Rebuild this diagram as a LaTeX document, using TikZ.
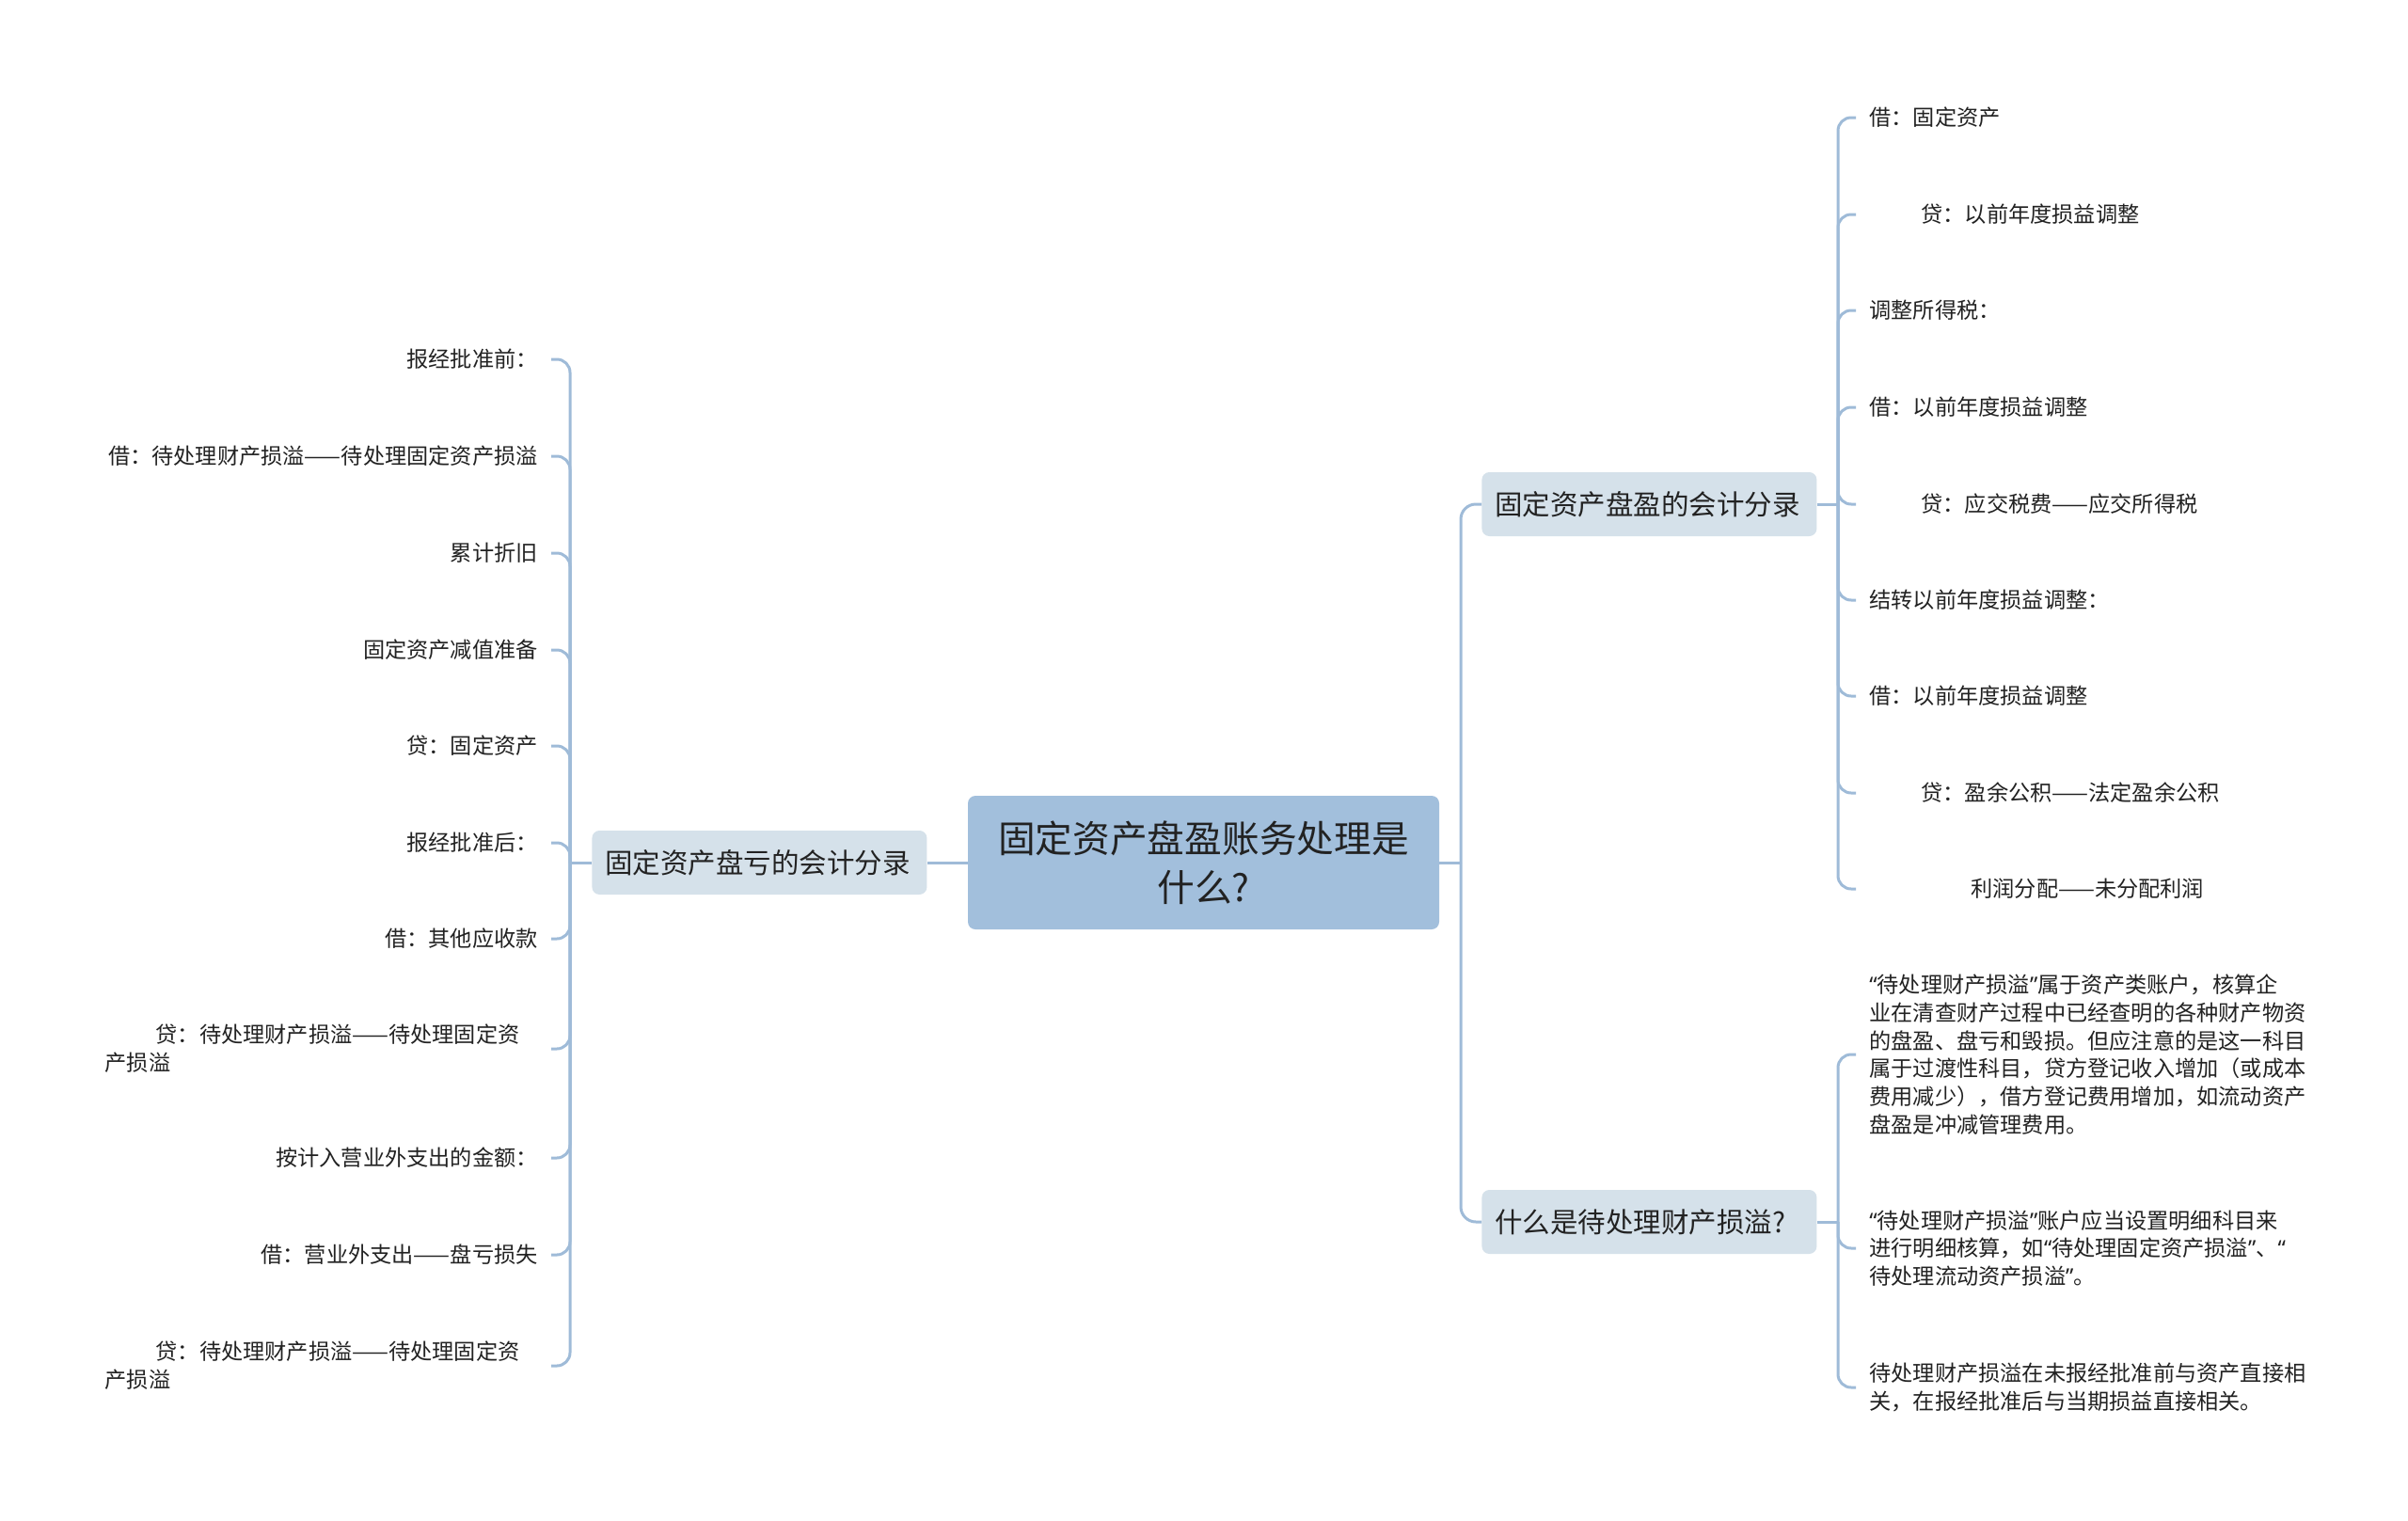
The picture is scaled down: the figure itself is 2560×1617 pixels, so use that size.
\documentclass[tikz,border=0pt]{standalone}
\usepackage{fontspec}
\setmainfont{Noto Sans CJK SC}
\newfontfamily\latinq{Noto Sans}
\newcommand\qlq{{\latinq “}}
\newcommand\qrq{{\latinq ”}}
\usetikzlibrary{calc}
\definecolor{linec}{HTML}{9FBBD8}
\definecolor{rootc}{HTML}{A2BFDC}
\definecolor{brc}{HTML}{D5E1EA}
\definecolor{txt}{HTML}{222222}
\tikzset{
  conn/.style={draw=linec, line width=1.5pt, rounded corners=7pt},
  trunk/.style={draw=linec, line width=1.5pt, rounded corners=8pt},
  rootbox/.style={fill=rootc, rounded corners=4pt, minimum width=250.5pt, minimum height=71pt,
    align=center, font=\fontsize{19.85pt}{26pt}\selectfont, text=txt, inner sep=0pt},
  brbox/.style={fill=brc, rounded corners=4pt, minimum height=34pt, anchor=west,
    inner xsep=7pt, inner ysep=0pt, text width=164pt, align=left,
    font=\fontsize{14.75pt}{18pt}\selectfont, text=txt},
  leaf/.style={inner sep=0pt, text=txt, font=\fontsize{11.6pt}{14.85pt}\selectfont},
  lleaf/.style={leaf, anchor=east},
  lleaftwo/.style={leaf, anchor=east, text width=230pt, align=left},
  rleaf/.style={leaf, anchor=west},
  rpara/.style={leaf, anchor=west, align=left},
}
\begin{document}
\begin{tikzpicture}[x=0.5pt,y=-0.5pt]
\path[use as bounding box, fill=white] (0,0) rectangle (2560,1617);

% root
\node[rootbox] (root) at (1279.5,917) {固定资产盘盈账务处理是\\什么?};

% branches
\node[brbox] (b1) at (1575,536) {固定资产盘盈的会计分录};
\node[brbox] (b2) at (1575,1299) {什么是待处理财产损溢?};
\node[brbox] (lb) at (629,917) {固定资产盘亏的会计分录};

% left leaves
\node[lleaf] (L1) at (572,382) {报经批准前：};
\node[lleaf] (L2) at (572,485) {借：待处理财产损溢——待处理固定资产损溢};
\node[lleaf] (L3) at (572,588) {累计折旧};
\node[lleaf] (L4) at (572,691) {固定资产减值准备};
\node[lleaf] (L5) at (572,793) {贷：固定资产};
\node[lleaf] (L6) at (572,896) {报经批准后：};
\node[lleaf] (L7) at (572,998) {借：其他应收款};
\node[lleaftwo] (L8) at (572,1115) {\hspace*{27pt}贷：待处理财产损溢——待处理固定资\\产损溢};
\node[lleaf] (L9) at (572,1231) {按计入营业外支出的金额：};
\node[lleaf] (L10) at (572,1334) {借：营业外支出——盘亏损失};
\node[lleaftwo] (L11) at (572,1452) {\hspace*{27pt}贷：待处理财产损溢——待处理固定资\\产损溢};

% right leaves of b1
\node[rleaf] (R1) at (1987,125) {借：固定资产};
\node[rleaf] (R2) at (1987,228) {\hspace*{27.5pt}贷：以前年度损益调整};
\node[rleaf] (R3) at (1987,330) {调整所得税：};
\node[rleaf] (R4) at (1987,433) {借：以前年度损益调整};
\node[rleaf] (R5) at (1987,536) {\hspace*{27.5pt}贷：应交税费——应交所得税};
\node[rleaf] (R6) at (1987,638) {结转以前年度损益调整：};
\node[rleaf] (R7) at (1987,740) {借：以前年度损益调整};
\node[rleaf] (R8) at (1987,843) {\hspace*{27.5pt}贷：盈余公积——法定盈余公积};
\node[rleaf] (R9) at (1987,945) {\hspace*{54pt}利润分配——未分配利润};

% right leaves of b2
\node[rpara] (P1) at (1987,1121) {\qlq 待处理财产损溢\qrq 属于资产类账户，核算企\\业在清查财产过程中已经查明的各种财产物资\\的盘盈、盘亏和毁损。但应注意的是这一科目\\属于过渡性科目，贷方登记收入增加（或成本\\费用减少），借方登记费用增加，如流动资产\\盘盈是冲减管理费用。};
\node[rpara] (P2) at (1987,1327) {\qlq 待处理财产损溢\qrq 账户应当设置明细科目来\\进行明细核算，如\qlq 待处理固定资产损溢\qrq 、\qlq\\待处理流动资产损溢\qrq 。};
\node[rpara] (P3) at (1987,1475) {待处理财产损溢在未报经批准前与资产直接相\\关，在报经批准后与当期损益直接相关。};

% junctions
\coordinate (tj) at (1553,917);
\coordinate (lj) at (606,917);
\coordinate (rj1) at (1954,536);
\coordinate (rj2) at (1954,1299);

% trunk connectors
\draw[trunk] (root.east) -- (tj);
\draw[trunk] (tj) |- (b1.west);
\draw[trunk] (tj) |- (b2.west);
\draw[trunk] (root.west) -- (lb.east);

% left subtree
\draw[conn] (lb.west) -- (lj);
\foreach \n in {L1,L2,L3,L4,L5,L6,L7,L8,L9,L10,L11}
  \draw[conn] (lj) |- ([xshift=7pt]\n.east);

% right subtree 1
\draw[conn] (b1.east) -- (rj1);
\foreach \n in {R1,R2,R3,R4,R5,R6,R7,R8,R9}
  \draw[conn] (rj1) |- ([xshift=-7pt]\n.west);

% right subtree 2
\draw[conn] (b2.east) -- (rj2);
\foreach \n in {P1,P2,P3}
  \draw[conn] (rj2) |- ([xshift=-7pt]\n.west);
\end{tikzpicture}
\end{document}
